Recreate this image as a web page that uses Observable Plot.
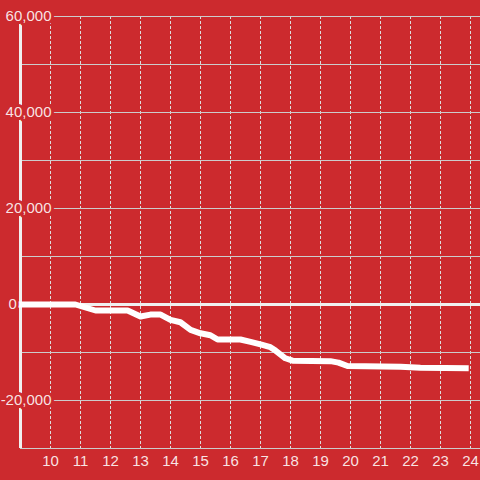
<!DOCTYPE html>
<html>
<head>
<meta charset="utf-8">
<script src="https://cdn.jsdelivr.net/npm/d3@7"></script>
<script src="https://cdn.jsdelivr.net/npm/@observablehq/plot@0.6"></script>
<style>
  html, body { margin: 0; padding: 0; background: #cc2a2e; }
</style>
</head>
<body>
<div id="chart"></div>
<script>
const hours = [9, 10.83, 11.5, 12.57, 13.0, 13.33, 13.67, 14.0, 14.33, 14.67, 15.0, 15.33, 15.57, 16.33, 16.67, 17.0, 17.33, 17.5, 17.83, 18.07, 19.33, 19.6, 19.9, 21.67, 22.33, 23.84];
const values = [0, 0, -1250, -1250, -2500, -2100, -2100, -3200, -3700, -5300, -6000, -6400, -7300, -7300, -7800, -8300, -8900, -9600, -11200, -11700, -11800, -12100, -12800, -12950, -13200, -13300];
const xTicks = [10, 11, 12, 13, 14, 15, 16, 17, 18, 19, 20, 21, 22, 23, 24];
const yGrid = [-30000, -20000, -10000, 10000, 20000, 30000, 40000, 50000, 60000];
const yLabelValues = [60000, 40000, 20000, -20000];
const yLabelTexts = ["60,000", "40,000", "20,000", "-20,000"];
const zeroLabel = "0";

const bg = "#cc2a2e";
const labelColor = "rgba(255,255,255,0.88)";
const data = hours.map((h, i) => ({h, v: values[i]}));
const yLabels = yLabelValues.map((v, i) => ({v, t: yLabelTexts[i]}));

const chart = Plot.plot({
  width: 480,
  height: 480,
  marginLeft: 20,
  marginRight: 0,
  marginTop: 16,
  marginBottom: 32,
  style: {background: bg, fontFamily: "'Liberation Sans', Arial, sans-serif", fontSize: "15px"},
  x: {domain: [9, 24 + 1/3], axis: null},
  y: {domain: [-30000, 60000], axis: null},
  marks: [
    Plot.ruleX(xTicks, {x: d => d, stroke: "#dddddd", strokeWidth: 1, strokeDasharray: "3,2"}),
    Plot.ruleY(yGrid, {y: d => d, stroke: "#cccccc", strokeWidth: 1}),
    Plot.ruleY([0], {y: d => d, stroke: "#f0f0f0", strokeWidth: 3}),
    Plot.ruleX([9], {x: d => d, stroke: "#f0f0f0", strokeWidth: 3}),
    Plot.line(data, {x: "h", y: "v", stroke: "#ffffff", strokeWidth: 6, strokeLinecap: "square", strokeLinejoin: "round"}),
    Plot.text(yLabels, {y: "v", text: "t", frameAnchor: "left", dx: 31, textAnchor: "end", fill: labelColor, stroke: bg, strokeWidth: 6, fontSize: 15}),
    Plot.text([0], {y: d => d, text: () => zeroLabel, frameAnchor: "left", dx: -12, textAnchor: "start", fill: labelColor, stroke: bg, strokeWidth: 5, fontSize: 15}),
    Plot.text(xTicks, {x: d => d, text: d => String(d), frameAnchor: "bottom", dy: 13, lineAnchor: "middle", fill: labelColor, fontSize: 15})
  ]
});
document.getElementById("chart").appendChild(chart);
</script>
</body>
</html>
